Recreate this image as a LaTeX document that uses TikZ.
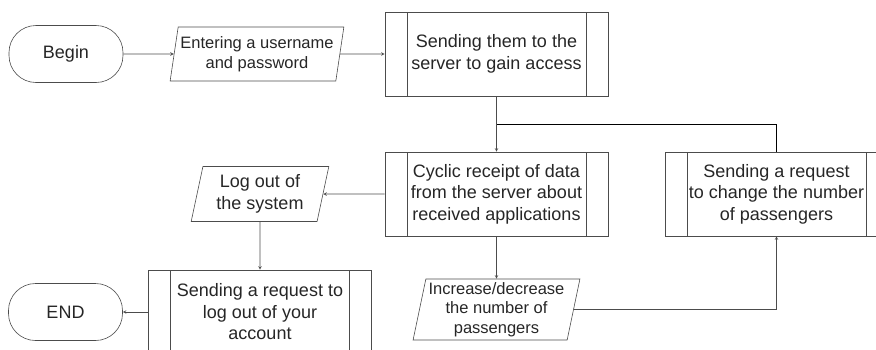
\documentclass[tikz,border=0pt]{standalone}
\usepackage{fontspec}
\setmainfont{Liberation Sans}
\usetikzlibrary{shapes.geometric, arrows}
\tikzstyle{startstop} = [rectangle, rounded corners=27pt, minimum width=114pt, minimum height=57pt, text centered, draw=black!70]
\tikzstyle{io} = [trapezium, trapezium left angle=78, trapezium right angle=102, trapezium stretches=true, inner xsep=-4pt, inner ysep=0pt, align=center, draw=black!70, font=\fontsize{16.5}{19.5}\selectfont]
\tikzstyle{subprocess} = [rectangle, minimum width=223pt, minimum height=84pt, align=center, draw=black!70, path picture={
    \draw[black!70] ([xshift=22pt]path picture bounding box.north west) -- ([xshift=22pt]path picture bounding box.south west);
    \draw[black!70] ([xshift=-22pt]path picture bounding box.north east) -- ([xshift=-22pt]path picture bounding box.south east);}]
\tikzstyle{arrow} = [->, >=stealth, draw=black!70]

\begin{document}
\begin{tikzpicture}[x=1pt, y=-1pt, node distance=140pt, line width=0.6pt, text=black!85, font=\fontsize{18}{21.5}\selectfont]
        \useasboundingbox (0,0) rectangle (876,349);
        \clip (0,0) rectangle (876,349);
        \node (begin) [startstop] at (66,54) {Begin};
        \node (input) [io, right of=begin, xshift=51pt, minimum width=174pt, minimum height=54pt] {Entering a username\\and password};
        \node (server) [subprocess, right of=input, xshift=99.5pt] {Sending them to the\\server to gain access};
        \node (cyclic) [subprocess, below of=server] {Cyclic receipt of data\\from the server about\\received applications};
        \node (request) [subprocess, right of=cyclic, xshift=140pt] {Sending a request\\to change the number\\of passengers};
        \node (logout) [io, left of=cyclic, xshift=-96.5pt, minimum width=139pt, minimum height=55pt, font=\fontsize{18}{21.5}\selectfont] {Log out of\\the system};
        \node (logoutreq) [subprocess, below of=logout, yshift=22pt] {Sending a request to\\log out of your\\account};
        \node (end) [startstop, left of=logoutreq, xshift=-54.5pt] {END};
        \node (increase) [io, below of=cyclic, yshift=24.5pt, minimum width=167pt, minimum height=61pt] {Increase/decrease\\the number of\\passengers};
        \coordinate (join) at ([yshift=-28pt]server.south);

        \draw [arrow] (begin.east) -- (input.west);
        \draw [arrow] (input.east) -- (server.west);
        \draw [arrow] (server.south) -- (cyclic.north);
        \draw (request.north) |- (join);
        \draw [arrow] (cyclic.west) -- (logout.east);
        \draw [arrow] (logout.south) -- (logoutreq.north);
        \draw [arrow] (logoutreq.west) -- (end.east);
        \draw [arrow] (cyclic.south) -- (increase.north);
        \draw [arrow] (increase.east) -| (request.south);
    \end{tikzpicture}
\end{document}
